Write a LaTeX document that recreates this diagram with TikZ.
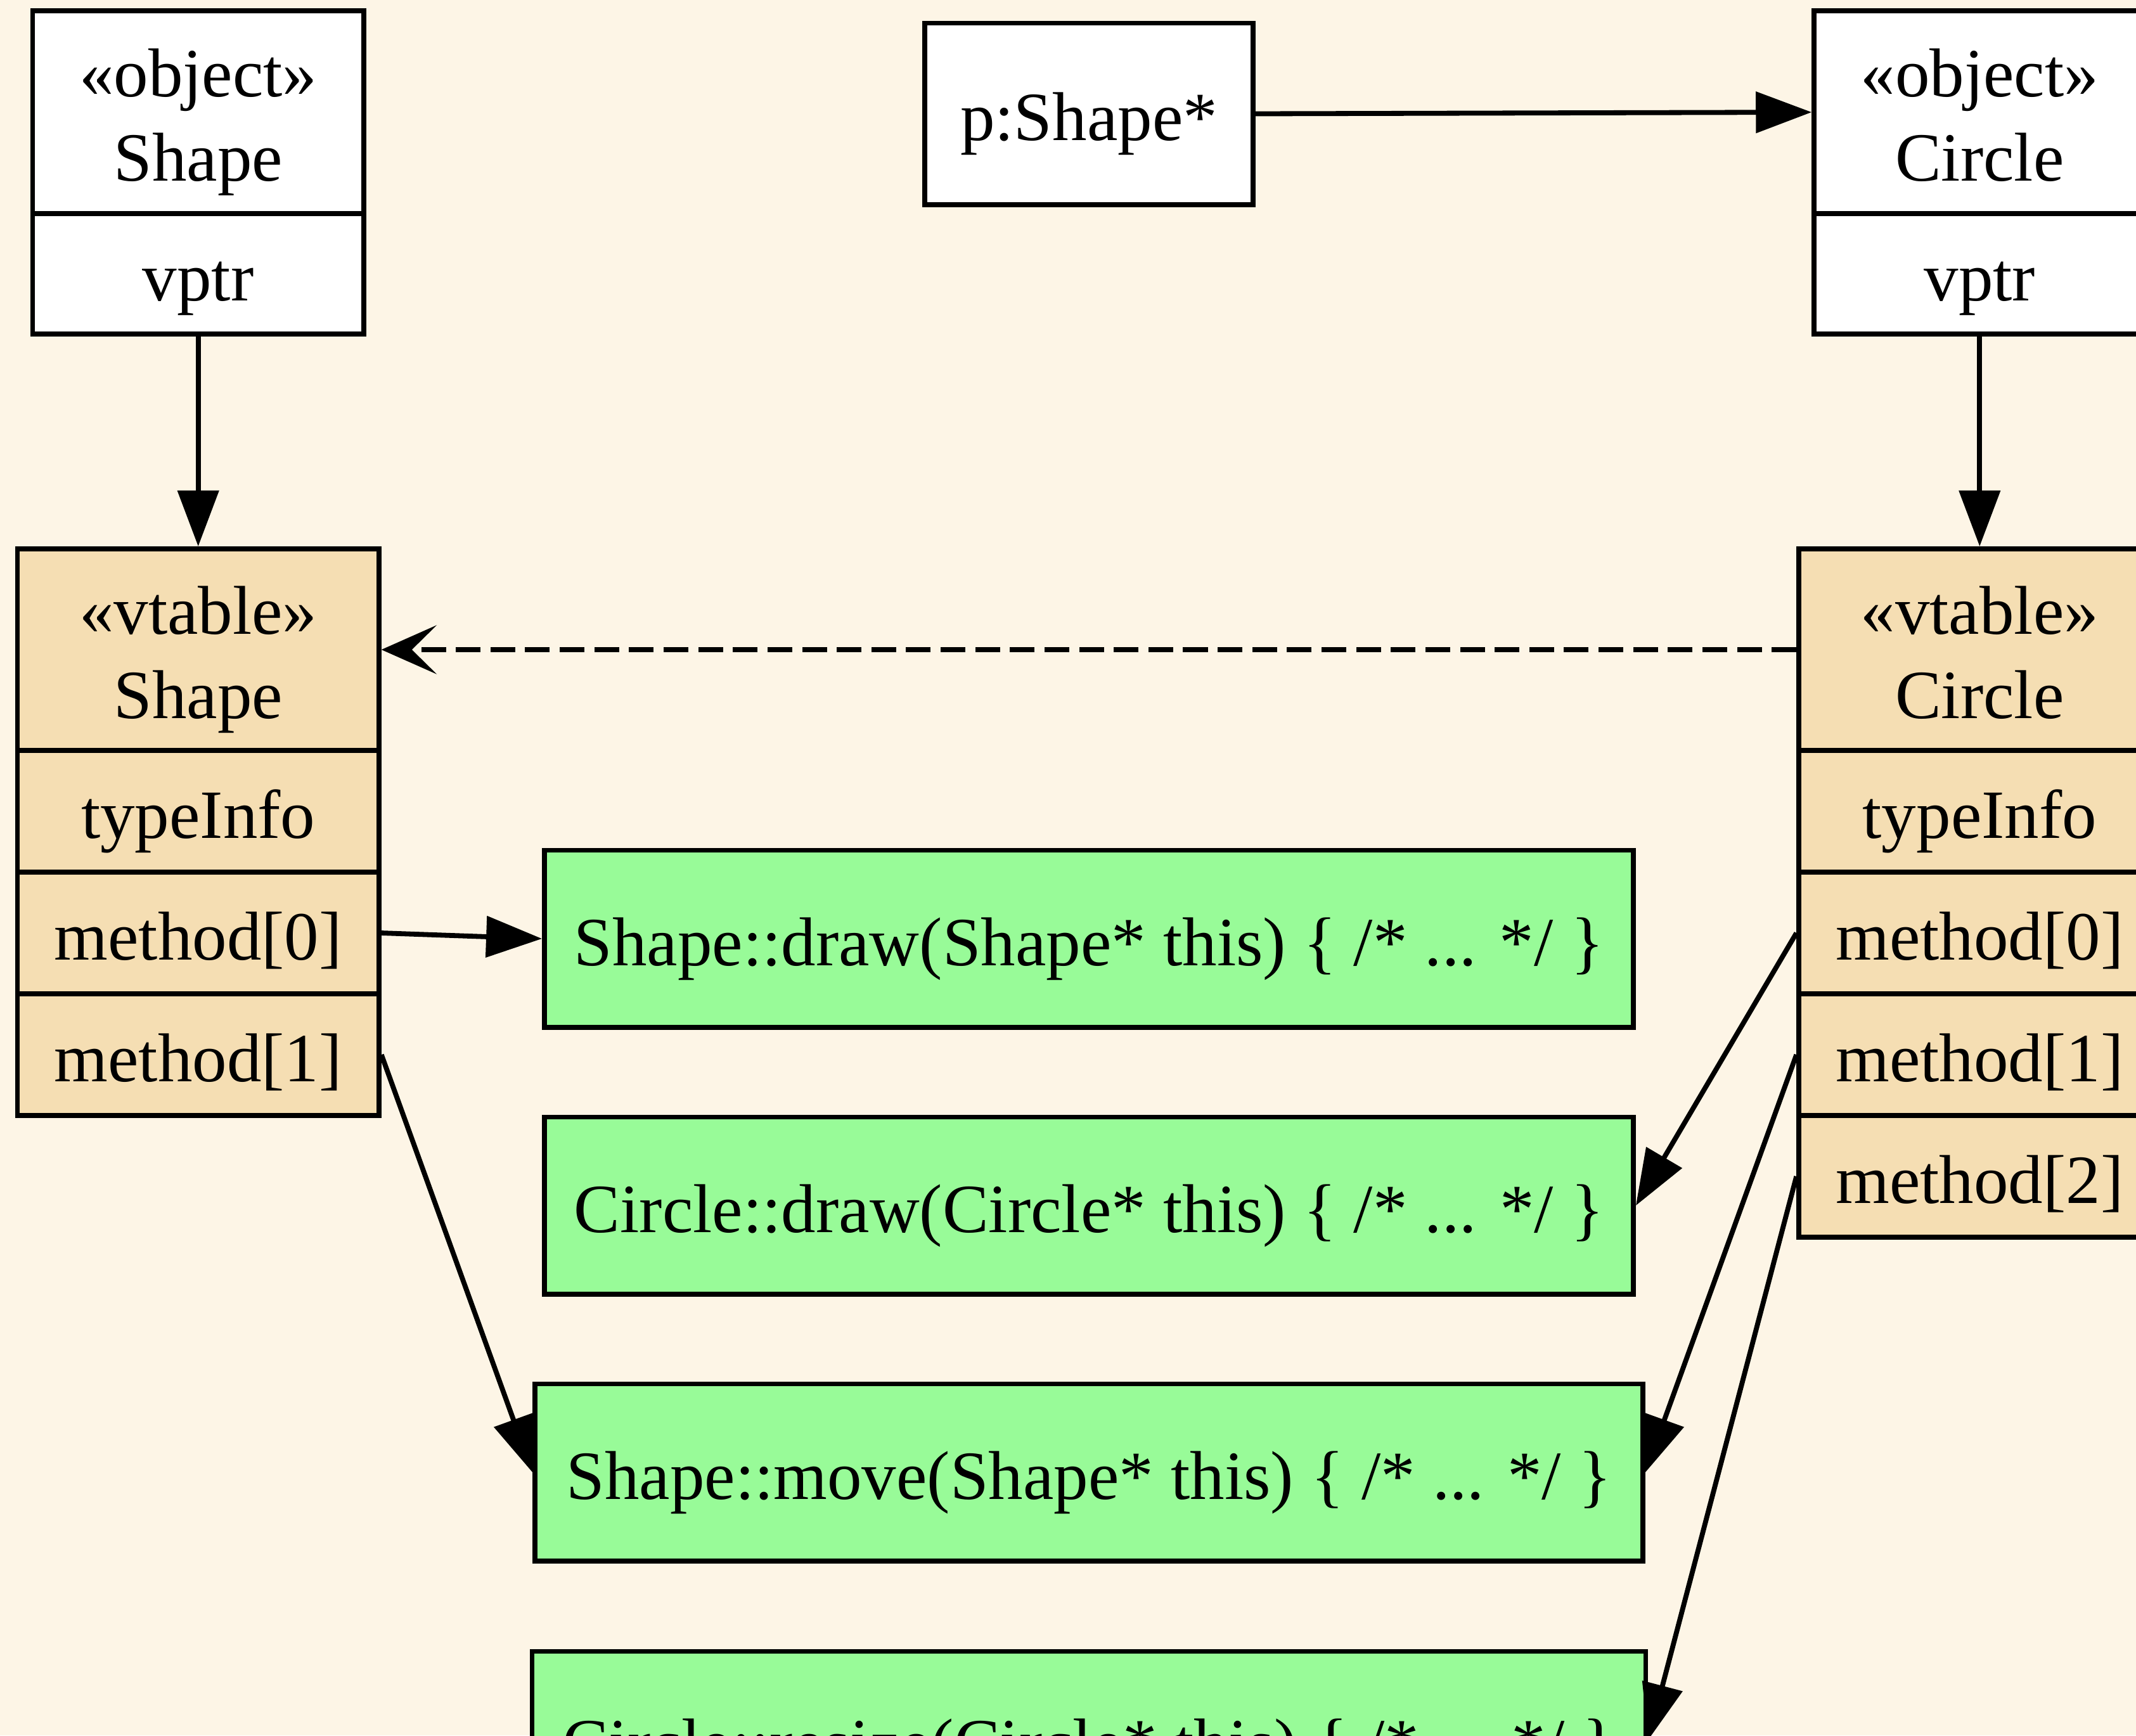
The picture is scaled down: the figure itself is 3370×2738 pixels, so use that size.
\documentclass[tikz,border=0pt]{standalone}
\usepackage{fontspec}
\setmainfont{Liberation Serif}
\usetikzlibrary{arrows.meta}
\definecolor{bgpaper}{HTML}{FDF5E6}
\definecolor{vtfill}{HTML}{F5DEB3}
\definecolor{fnfill}{HTML}{98FB98}
% fixed line extents so that every text line sits on the same baseline grid
\newcommand\linestrut{\rule[-6.5pt]{0pt}{36.9pt}}
\newcommand\twolines[2]{\linestrut#1\\\linestrut#2}

\begin{document}
\begin{tikzpicture}[x=0.01cm, y=-0.01cm,
  cell/.style={draw=black, line width=0.078cm, inner sep=0pt, align=center,
               font=\fontsize{31pt}{36.7pt}\selectfont},
  line/.style={text height=30.4pt, text depth=6.5pt},
  objcell/.style={cell, fill=white, minimum width=5.22cm},
  vtcell/.style={cell, fill=vtfill, minimum width=5.70cm},
  fncell/.style={cell, line, fill=fnfill, minimum height=2.79cm},
  link/.style={line width=0.078cm, -{Triangle[length=0.88cm, width=0.64cm]}},
  derive/.style={line width=0.078cm, dash pattern=on 0.39cm off 0.156cm,
                 -{Stealth[length=0.87cm, width=0.77cm, inset=0.39cm]}}
]
\useasboundingbox (0,0) rectangle (3370,2738);
\clip (0,0) rectangle (3370,2738);
\fill[bgpaper] (0,0) rectangle (3370,2738);

% objects
\node[objcell, minimum height=3.20cm] (sobjh) at (312.7,177) {\twolines{«object»}{Shape}};
\node[objcell, line, minimum height=1.90cm] (sobjv) at (312.7,432) {vptr};
\node[cell, line, fill=white, minimum width=5.18cm, minimum height=2.86cm] (ptr) at (1718,179.5) {p:Shape*};
\node[objcell, minimum height=3.20cm] (cobjh) at (3123.3,177) {\twolines{«object»}{Circle}};
\node[objcell, line, minimum height=1.90cm] (cobjv) at (3123.3,432) {vptr};

% vtable of Shape
\node[vtcell, minimum height=3.18cm] (svth) at (312.7,1025) {\twolines{«vtable»}{Shape}};
\node[vtcell, line, minimum height=1.92cm] (svti) at (312.7,1280) {typeInfo};
\node[vtcell, line, minimum height=1.92cm] (svm0) at (312.7,1472) {method[0]};
\node[vtcell, line, minimum height=1.92cm] (svm1) at (312.7,1664) {method[1]};

% vtable of Circle
\node[vtcell, minimum height=3.18cm] (cvth) at (3123.3,1025) {\twolines{«vtable»}{Circle}};
\node[vtcell, line, minimum height=1.92cm] (cvti) at (3123.3,1280) {typeInfo};
\node[vtcell, line, minimum height=1.92cm] (cvm0) at (3123.3,1472) {method[0]};
\node[vtcell, line, minimum height=1.92cm] (cvm1) at (3123.3,1664) {method[1]};
\node[vtcell, line, minimum height=1.92cm] (cvm2) at (3123.3,1856) {method[2]};

% function bodies
\node[fncell, minimum width=17.17cm] (sdraw) at (1718,1481) {Shape::draw(Shape* this) \{ /* ... */ \}};
\node[fncell, minimum width=17.17cm] (cdraw) at (1718,1902) {Circle::draw(Circle* this) \{ /* ... */ \}};
\node[fncell, minimum width=17.47cm] (smove) at (1718,2323) {Shape::move(Shape* this) \{ /* ... */ \}};
\node[fncell, minimum width=17.56cm] (cresize) at (1718,2745) {Circle::resize(Circle* this) \{ /* ... */ \}};

% pointers
\draw[link] (ptr.east) -- (cobjh.west);
\draw[link] (sobjv.south) -- (svth.north);
\draw[link] (cobjv.south) -- (cvth.north);
\draw[derive] (cvth.west) -- (svth.east);
\draw[link] (svm0.east) -- (sdraw.west);
\draw[link] (svm1.east) -- (smove.west);
\draw[link] (cvm0.west) -- (cdraw.east);
\draw[link] (cvm1.west) -- (smove.east);
\draw[link] (cvm2.west) -- (cresize.east);
\end{tikzpicture}
\end{document}
